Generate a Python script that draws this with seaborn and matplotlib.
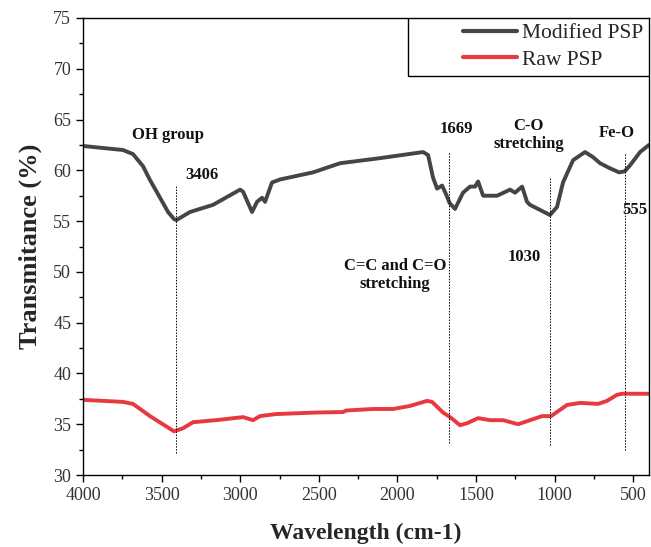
import numpy as np
import pandas as pd
import matplotlib
matplotlib.use("Agg")
import matplotlib.pyplot as plt
from matplotlib.patches import Rectangle
from matplotlib.ticker import MultipleLocator
import seaborn as sns

# FTIR spectra (wavenumber in cm-1, transmittance in %)
modified_wn = [4000, 3746, 3682, 3618, 3574, 3510, 3459, 3421, 3406, 3319, 3173, 3001,
               2982, 2925, 2893, 2861, 2842, 2798, 2747, 2537, 2365, 2111, 1837, 1805,
               1774, 1748, 1716, 1684, 1669, 1634, 1583, 1538, 1506, 1487, 1455, 1366,
               1284, 1252, 1207, 1176, 1157, 1093, 1030, 985, 947, 883, 807, 756, 711,
               648, 590, 555, 520, 457, 400]
modified_t = [62.4, 62.0, 61.6, 60.4, 59.05, 57.3, 55.9, 55.2, 55.1, 55.9, 56.6, 58.1,
              57.9, 55.9, 56.9, 57.3, 56.9, 58.8, 59.1, 59.8, 60.7, 61.2, 61.8, 61.5,
              59.3, 58.2, 58.5, 57.4, 56.8, 56.2, 57.8, 58.4, 58.4, 58.9, 57.5, 57.5,
              58.1, 57.8, 58.4, 56.9, 56.6, 56.1, 55.6, 56.4, 58.8, 61.0, 61.8, 61.3,
              60.7, 60.2, 59.8, 59.9, 60.5, 61.8, 62.5]

raw_wn = [4000, 3746, 3682, 3574, 3421, 3364, 3300, 3154, 2982, 2919, 2874, 2772, 2518,
          2346, 2327, 2155, 2028, 1920, 1812, 1780, 1710, 1665, 1602, 1557, 1487, 1411,
          1328, 1233, 1137, 1080, 1023, 921, 838, 724, 667, 603, 571, 400]
raw_t = [37.4, 37.2, 37.0, 35.8, 34.3, 34.6, 35.2, 35.4, 35.7, 35.4, 35.8, 36.0, 36.15,
         36.2, 36.35, 36.5, 36.5, 36.8, 37.3, 37.2, 36.15, 35.7, 34.9, 35.1, 35.6, 35.4,
         35.4, 35.0, 35.5, 35.8, 35.8, 36.9, 37.1, 37.0, 37.3, 37.9, 38.0, 38.0]

series_names = ["Modified PSP", "Raw PSP"]
series_colors = ["#454545", "#e8393f"]

# Band markers: wavenumber, top and bottom of the guide line
band_wn = [3406, 1669, 1030, 555]
band_top = [58.6, 61.8, 59.3, 61.7]
band_bottom = [32.2, 33.2, 33.0, 32.5]

# Band annotations: text, wavenumber, transmittance, horizontal alignment
notes_text = ["OH group", "3406", "1669", "C-O\nstretching", "Fe-O", "555",
              "C=C and C=O\nstretching", "1030"]
notes_wn = [3459, 3243, 1627, 1165, 603, 571, 2015, 1195]
notes_t = [63.5, 59.5, 64.1, 63.5, 63.7, 56.1, 49.7, 51.5]
notes_ha = ["center", "center", "center", "center", "center", "left", "center", "center"]

df = pd.concat([
    pd.DataFrame({"Wavenumber": modified_wn, "Transmittance": modified_t, "Sample": series_names[0]}),
    pd.DataFrame({"Wavenumber": raw_wn, "Transmittance": raw_t, "Sample": series_names[1]}),
])

sns.set_theme(style="ticks")
plt.rcParams["font.family"] = ["Liberation Serif", "DejaVu Serif"]

fig = plt.figure(figsize=(6.51, 5.47), dpi=100)
ax = fig.add_axes([83 / 651, 1 - 475 / 547, 566 / 651, 457 / 547])

sns.lineplot(data=df, x="Wavenumber", y="Transmittance", hue="Sample",
             hue_order=series_names, palette=series_colors, estimator=None,
             sort=False, linewidth=2.8, ax=ax, legend=False)
for line in ax.get_lines():
    line.set_solid_joinstyle("round")
    line.set_solid_capstyle("round")

for wn, top, bot in zip(band_wn, band_top, band_bottom):
    ax.plot([wn, wn], [bot, top], color="black", linestyle=(0, (1.5, 1.5)), linewidth=0.7)

for txt, wn, t, ha in zip(notes_text, notes_wn, notes_t, notes_ha):
    ax.text(wn, t, txt, ha=ha, va="center", fontsize=12, fontweight="bold",
            color="#111111", linespacing=1.2, multialignment="center")

ax.set_xlim(4000, 400)
ax.set_ylim(30, 75)
ax.xaxis.set_major_locator(MultipleLocator(500))
ax.xaxis.set_minor_locator(MultipleLocator(250))
ax.yaxis.set_major_locator(MultipleLocator(5))
ax.yaxis.set_minor_locator(MultipleLocator(2.5))
ax.tick_params(which="major", direction="out", length=5, width=1, labelsize=13,
               labelcolor="#333333", color="black")
ax.tick_params(which="minor", direction="out", length=3, width=1, color="black")
for s in ax.spines.values():
    s.set_visible(True)
    s.set_color("black")
    s.set_linewidth(1.0)

ax.set_xlabel("Wavelength (cm-1)", fontsize=17, fontweight="bold", labelpad=14)
ax.set_ylabel("Transmitance (%)", fontsize=19, fontweight="bold", labelpad=8)

# Legend with a boxed area spanning the top-right corner
ax.add_patch(Rectangle((0.574, 0.873), 0.426, 0.127, transform=ax.transAxes,
                       facecolor="white", edgecolor="black", linewidth=1.0, zorder=4))
handles = [plt.Line2D([], [], color=c, linewidth=3) for c in series_colors]
leg = ax.legend(handles, series_names, loc="upper right", bbox_to_anchor=(1.0, 1.0),
                frameon=False, fontsize=15.5, handlelength=2.5, handletextpad=0.25,
                labelspacing=0.3, borderpad=0.25, borderaxespad=0.0)
leg.set_zorder(5)

fig.savefig("out.png", dpi=100)
